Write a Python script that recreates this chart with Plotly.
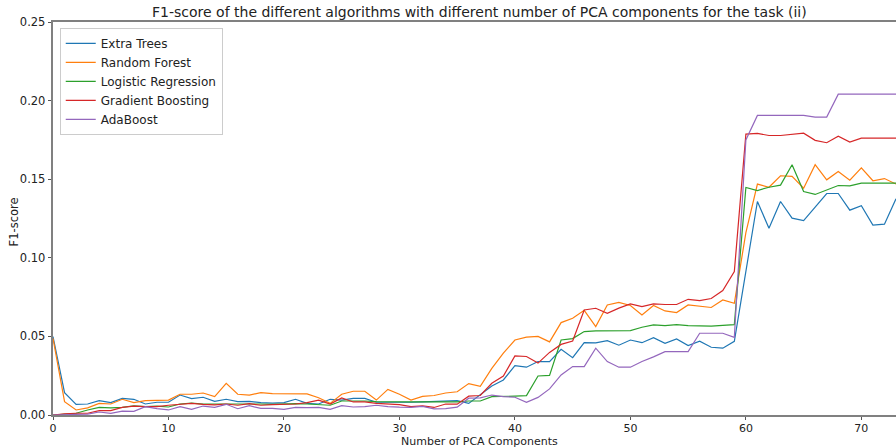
import plotly.graph_objects as go

components = list(range(0, 74))

extra_trees = [0.0499, 0.0142, 0.0068, 0.0070, 0.0091, 0.0079, 0.0106, 0.0100, 0.0070, 0.0081,
               0.0081, 0.0127, 0.0104, 0.0113, 0.0087, 0.0100, 0.0085, 0.0087, 0.0079, 0.0076,
               0.0079, 0.0100, 0.0074, 0.0070, 0.0100, 0.0095, 0.0106, 0.0106, 0.0081, 0.0080,
               0.0079, 0.0081, 0.0084, 0.0087, 0.0091, 0.0091, 0.0074, 0.0127, 0.0185, 0.0223,
               0.0314, 0.0304, 0.0340, 0.0340, 0.0418, 0.0365, 0.0461, 0.0459, 0.0473, 0.0444,
               0.0477, 0.0460, 0.0492, 0.0456, 0.0484, 0.0442, 0.0469, 0.0431, 0.0425, 0.0469,
               0.0920, 0.1358, 0.1188, 0.1358, 0.1252, 0.1237, 0.1322, 0.1409, 0.1409, 0.1303,
               0.1331, 0.1208, 0.1214, 0.1375]

random_forest = [0.0488, 0.0085, 0.0032, 0.0045, 0.0074, 0.0070, 0.0100, 0.0079, 0.0091, 0.0095,
                 0.0095, 0.0132, 0.0132, 0.0140, 0.0117, 0.0202, 0.0132, 0.0127, 0.0142, 0.0136,
                 0.0136, 0.0138, 0.0134, 0.0110, 0.0074, 0.0132, 0.0151, 0.0151, 0.0095, 0.0163,
                 0.0132, 0.0095, 0.0118, 0.0124, 0.0140, 0.0148, 0.0200, 0.0182, 0.0297, 0.0393,
                 0.0477, 0.0495, 0.0500, 0.0465, 0.0588, 0.0615, 0.0666, 0.0562, 0.0700, 0.0716,
                 0.0697, 0.0637, 0.0697, 0.0662, 0.0652, 0.0700, 0.0690, 0.0684, 0.0732, 0.0711,
                 0.1160, 0.1469, 0.1449, 0.1522, 0.1518, 0.1443, 0.1592, 0.1496, 0.1549, 0.1494,
                 0.1572, 0.1490, 0.1504, 0.1469]

logistic_regression = [0.0000, 0.0006, 0.0011, 0.0032, 0.0049, 0.0045, 0.0049, 0.0059, 0.0053, 0.0057,
                       0.0051, 0.0070, 0.0076, 0.0070, 0.0070, 0.0074, 0.0072, 0.0074, 0.0070, 0.0068,
                       0.0072, 0.0072, 0.0070, 0.0068, 0.0062, 0.0089, 0.0091, 0.0089, 0.0085, 0.0083,
                       0.0081, 0.0083, 0.0083, 0.0083, 0.0084, 0.0084, 0.0089, 0.0089, 0.0117, 0.0117,
                       0.0120, 0.0123, 0.0248, 0.0252, 0.0477, 0.0486, 0.0531, 0.0535, 0.0537, 0.0537,
                       0.0537, 0.0558, 0.0573, 0.0569, 0.0575, 0.0569, 0.0567, 0.0565, 0.0570, 0.0575,
                       0.1447, 0.1428, 0.1449, 0.1462, 0.1592, 0.1422, 0.1403, 0.1432, 0.1460, 0.1458,
                       0.1475, 0.1475, 0.1475, 0.1475]

gradient_boosting = [0.0000, 0.0008, 0.0011, 0.0011, 0.0028, 0.0028, 0.0049, 0.0057, 0.0053, 0.0053,
                     0.0062, 0.0070, 0.0074, 0.0068, 0.0064, 0.0070, 0.0062, 0.0072, 0.0062, 0.0066,
                     0.0068, 0.0070, 0.0079, 0.0095, 0.0070, 0.0108, 0.0083, 0.0083, 0.0074, 0.0072,
                     0.0066, 0.0053, 0.0058, 0.0048, 0.0070, 0.0069, 0.0120, 0.0124, 0.0202, 0.0248,
                     0.0376, 0.0372, 0.0330, 0.0398, 0.0449, 0.0471, 0.0668, 0.0679, 0.0647, 0.0680,
                     0.0707, 0.0690, 0.0707, 0.0703, 0.0703, 0.0736, 0.0728, 0.0741, 0.0792, 0.0912,
                     0.1787, 0.1791, 0.1778, 0.1778, 0.1785, 0.1793, 0.1747, 0.1732, 0.1774, 0.1736,
                     0.1761, 0.1761, 0.1761, 0.1761]

adaboost = [0.0000, 0.0002, 0.0002, 0.0006, 0.0019, 0.0011, 0.0025, 0.0023, 0.0053, 0.0040,
            0.0032, 0.0053, 0.0036, 0.0057, 0.0049, 0.0068, 0.0040, 0.0059, 0.0042, 0.0042,
            0.0036, 0.0049, 0.0047, 0.0049, 0.0036, 0.0059, 0.0051, 0.0053, 0.0062, 0.0053,
            0.0050, 0.0049, 0.0055, 0.0039, 0.0041, 0.0050, 0.0107, 0.0109, 0.0127, 0.0117,
            0.0113, 0.0081, 0.0112, 0.0166, 0.0255, 0.0308, 0.0308, 0.0425, 0.0340, 0.0304,
            0.0304, 0.0340, 0.0370, 0.0403, 0.0403, 0.0403, 0.0520, 0.0520, 0.0520, 0.0494,
            0.1750, 0.1906, 0.1906, 0.1906, 0.1906, 0.1906, 0.1895, 0.1895, 0.2041, 0.2041,
            0.2041, 0.2041, 0.2041, 0.2041]

series_names = ["Extra Trees", "Random Forest", "Logistic Regression", "Gradient Boosting", "AdaBoost"]
series_values = [extra_trees, random_forest, logistic_regression, gradient_boosting, adaboost]
colors = ["#1f77b4", "#ff7f0e", "#2ca02c", "#d62728", "#9467bd"]

x_ticks = [0, 10, 20, 30, 40, 50, 60, 70]
y_ticks = [0.0, 0.05, 0.10, 0.15, 0.20, 0.25]

title_text = "F1-score of the different algorithms with different number of PCA components for the task (ii)"
x_title = "Number of PCA Components"
y_title = "F1-score"

fig = go.Figure()
for name, vals, c in zip(series_names, series_values, colors):
    fig.add_trace(go.Scatter(x=components, y=vals, mode="lines", name=name,
                             line=dict(color=c, width=1.2)))

font_family = "DejaVu Sans"
text_color = "#222222"
fig.update_layout(
    width=896, height=448,
    margin=dict(l=53, r=0, t=22, b=33, autoexpand=False),
    paper_bgcolor="white", plot_bgcolor="white",
    font=dict(family=font_family, size=11, color=text_color),
    showlegend=True,
    legend=dict(x=0.008, y=0.985, xanchor="left", yanchor="top",
                bgcolor="rgba(255,255,255,0.8)", bordercolor="#cccccc", borderwidth=1,
                font=dict(size=12, color=text_color), itemwidth=30, tracegroupgap=0),
    annotations=[
        dict(text=title_text, xref="paper", yref="paper", x=0.5065, y=1.0, yshift=10,
             xanchor="center", yanchor="middle", showarrow=False,
             font=dict(size=14, color=text_color)),
        dict(text=x_title, xref="paper", yref="paper", x=0.5065, y=0, yshift=-26,
             xanchor="center", yanchor="middle", showarrow=False, borderpad=0,
             font=dict(size=11, color=text_color)),
        dict(text=y_title, xref="paper", yref="paper", x=0, xshift=-39, y=0.49,
             xanchor="center", yanchor="middle", showarrow=False, textangle=-90,
             font=dict(size=11.5, color=text_color)),
    ],
)
fig.update_xaxes(range=[0, 73], tickvals=x_ticks, ticks="outside", ticklen=3,
                 tickcolor="#555555", showline=True, linecolor="#808080", linewidth=1.5,
                 mirror=True, showgrid=False, zeroline=False, automargin=False,
                 ticklabelstandoff=-1,
                 tickfont=dict(size=11, color=text_color))
fig.update_yaxes(range=[0, 0.25], tickvals=y_ticks, tickformat=".2f", ticks="outside",
                 ticklen=3.5, tickcolor="#555555", showline=True, linecolor="#808080",
                 linewidth=1.5, mirror=True, showgrid=False, zeroline=False, automargin=False,
                 tickfont=dict(size=11.5, color=text_color))

fig.write_html("out.html", config={"displayModeBar": False},
               post_script="document.body.style.margin='0px';")
